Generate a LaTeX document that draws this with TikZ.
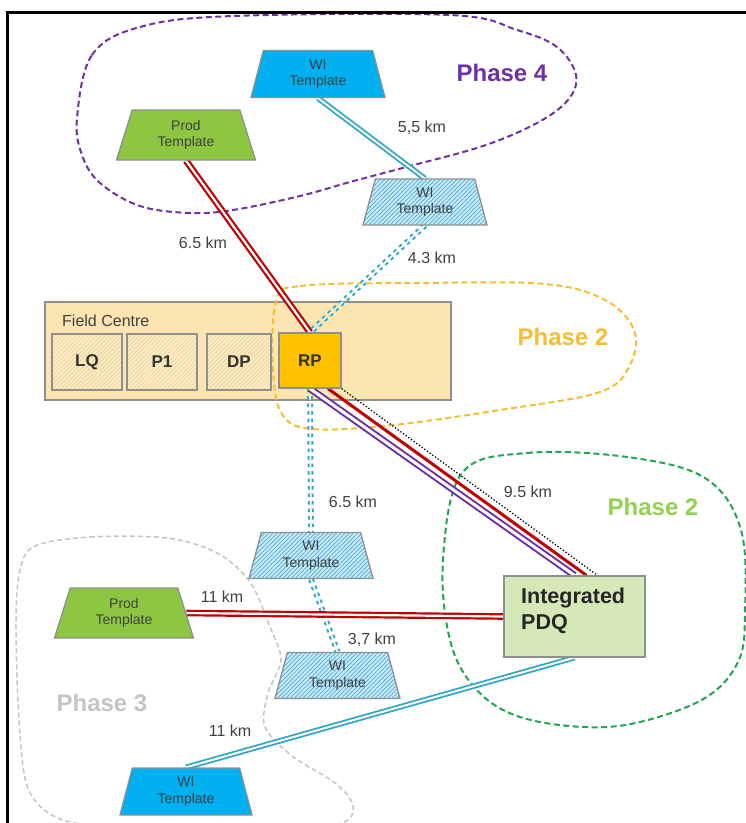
\documentclass[tikz,border=0pt]{standalone}
\usepackage{fontspec}
\setmainfont{Liberation Sans}
\usetikzlibrary{shapes.geometric,patterns.meta,calc}

\definecolor{txtgray}{HTML}{404040}
\definecolor{edgegray}{HTML}{8F8F8F}
\definecolor{wiblue}{HTML}{00B0F0}
\definecolor{wilight}{HTML}{CBE9F7}
\definecolor{wihatch}{HTML}{45ACD8}
\definecolor{prodgreen}{HTML}{8DC640}
\definecolor{pdqgreen}{HTML}{D4E9B7}
\definecolor{fcfill}{HTML}{FDE5B2}
\definecolor{unitfill}{HTML}{FCEBC4}
\definecolor{unithatch}{HTML}{E6CF94}
\definecolor{rporange}{HTML}{FFC000}
\definecolor{linkcyan}{HTML}{31A6C4}
\definecolor{linkred}{HTML}{C00000}
\definecolor{linkpurple}{HTML}{7030A0}
\definecolor{zonepurple}{HTML}{7030A0}
\definecolor{zonegold}{HTML}{F5BE32}
\definecolor{zonegreen}{HTML}{22A553}
\definecolor{labelgreen}{HTML}{92D050}
\definecolor{zonegray}{HTML}{C4C4C4}

\pgfdeclarelayer{backdrop}
\pgfdeclarelayer{zones}
\pgfdeclarelayer{links}
\pgfsetlayers{backdrop,zones,links,main}

\tikzset{
  tmpl/.style={trapezium, trapezium stretches body, draw=edgegray, line width=1.3pt,
    inner sep=0pt, align=center, text=txtgray,
    font=\fontsize{14}{16.5}\selectfont},
  wisolid/.style={tmpl, fill=wiblue, trapezium angle=67, minimum height=47},
  wihatched/.style={tmpl, trapezium angle=67, minimum height=46,
    preaction={fill=wilight},
    pattern={Lines[angle=45,distance=3pt,line width=0.7pt]}, pattern color=wihatch},
  prodtmpl/.style={tmpl, fill=prodgreen, trapezium angle=62, minimum height=50},
  unitbox/.style={draw=edgegray, line width=1.3pt, minimum height=56, inner sep=0pt,
    font=\fontsize{17}{17}\selectfont\bfseries, text=black!80,
    preaction={fill=unitfill},
    pattern={Lines[angle=45,distance=3pt,line width=0.6pt]}, pattern color=unithatch},
  km/.style={font=\fontsize{16}{16}\selectfont, text=txtgray, inner sep=0pt},
  phaselbl/.style={font=\fontsize{24}{24}\selectfont\bfseries, inner sep=0pt},
  zone/.style={dash pattern=on 6pt off 3.5pt, line width=2pt},
  pipered/.style={draw=linkred, line width=2.2pt, double=white, double distance=2.2pt},
  pipecyan/.style={draw=linkcyan, line width=1.8pt, double=white, double distance=2pt},
  pipecyandot/.style={draw=linkcyan, line width=2pt, double=white, double distance=1.8pt,
    dash pattern=on 3.5pt off 4pt},
  pipepurple/.style={draw=linkpurple, line width=2pt, double=white, double distance=3pt},
}

\begin{document}
\begin{tikzpicture}[x=1pt,y=-1pt]
\useasboundingbox (0,0) rectangle (746,823);

% outer frame (top and left edges)
\draw[line width=2.2pt] (7.5,840) -- (7.5,12.5) -- (760,12.5);

% field centre block
\begin{pgfonlayer}{backdrop}
  \node[draw=edgegray, line width=1.3pt, fill=fcfill, minimum width=406, minimum height=98,
        inner sep=0pt] (fc) at (248,351) {};
\end{pgfonlayer}
\node[anchor=west, inner sep=0pt, font=\fontsize{16}{16}\selectfont, text=txtgray]
  (fclabel) at (62,321) {Field Centre};

\node[unitbox, minimum width=70] (lq) at (87,362) {LQ};
\node[unitbox, minimum width=70] (p1) at (162,362) {P1};
\node[unitbox, minimum width=64] (dp) at (239,362) {DP};
\node[draw=edgegray, line width=1.3pt, fill=rporange, minimum width=62, minimum height=55,
      inner sep=0pt, font=\fontsize{17}{17}\selectfont\bfseries, text=black!80]
  (rp) at (310,360.5) {RP};

% templates
\node[wisolid, minimum width=134] (wi4) at (318,74) {WI\\Template};
\node[prodtmpl, minimum width=139] (prod4) at (186,135) {Prod\\Template};
\node[wihatched, minimum width=124] (wi4h) at (425,202) {WI\\Template};
\node[wihatched, minimum width=124] (wi3m) at (311,555.5) {WI\\Template};
\node[prodtmpl, minimum width=139] (prod3) at (124,613) {Prod\\Template};
\node[wihatched, minimum width=125] (wi3h) at (337.5,675.5) {WI\\Template};
\node[wisolid, minimum width=132] (wi3) at (186,791.5) {WI\\Template};

% integrated PDQ
\node[draw=edgegray, line width=1.3pt, fill=pdqgreen, minimum width=141, minimum height=81,
      inner sep=0pt] (pdq) at (574.5,616.5) {};
\node[anchor=north west, align=left, inner sep=0pt,
      font=\fontsize{21.5}{26}\selectfont\bfseries, text=black!85]
  (pdqlabel) at (521,588) {Integrated\\PDQ};

% phase zones
\begin{pgfonlayer}{zones}
  \draw[zone, draw=zonepurple] plot[smooth cycle, tension=0.6] coordinates {
    (77,118) (92,55) (140,27) (233,16) (450,15) (517,30) (557,47) (576,75) (568,100)
    (537,123) (483,146) (410,166) (350,182) (300,196) (233,210) (190,213)
    (140,206) (100,183) (82,155)};
  \draw[zone, draw=zonegold] plot[smooth cycle, tension=0.6] coordinates {
    (276,302) (300,286) (420,283) (545,284) (605,300) (634,330) (630,365)
    (600,392) (500,410) (393,425) (312,429) (282,414) (273,370)};
  \draw[zone, draw=zonegreen] plot[smooth cycle, tension=0.6] coordinates {
    (462,473) (527,453) (627,457) (705,478) (741,530) (745,615) (738,662)
    (705,698) (640,722) (583,727) (517,716) (475,688) (450,640) (443,560)};
  \draw[zone, draw=zonegray, line width=1.5pt, dash pattern=on 5pt off 3pt]
    plot[smooth cycle, tension=0.55] coordinates {
    (35,546) (90,537) (167,538) (217,553) (250,582) (270,627) (281,660) (268,693)
    (265,727) (292,756) (335,783) (353,806) (338,824) (250,830) (120,828)
    (58,818) (28,788) (19,720) (16,620) (20,570)};
\end{pgfonlayer}

\node[phaselbl, text=zonepurple] (ph4) at (502,73) {Phase 4};
\node[phaselbl, text=zonegold] (ph2a) at (563,337) {Phase 2};
\node[phaselbl, text=labelgreen] (ph2b) at (653,507) {Phase 2};
\node[phaselbl, text=zonegray] (ph3) at (102,703) {Phase 3};

% pipelines
\begin{pgfonlayer}{links}
  \draw[pipecyan] (wi4.south) -- (wi4h.north);
  \draw[pipered] (prod4.south) -- (rp.north);
  \draw[pipecyandot] (wi4h.south) -- (rp.north);
  \draw[pipecyandot] (rp.south) -- (wi3m.north);
  \draw[pipecyandot] (wi3m.south) -- (wi3h.north);
  \draw[pipepurple] (rp.south) -- (pdq.north);
  \draw[draw=linkred, line width=3pt] ($(rp.south)+(18,0)$) -- ($(pdq.north)+(12,0)$);
  \draw[black, line width=1.3pt, dash pattern=on 1.3pt off 2pt]
    (rp.south east) -- ($(pdq.north)+(23,0)$);
  \draw[pipered] (prod3.east) -- (pdq.west);
  \draw[pipecyan] (pdq.south) -- (wi3.north);
\end{pgfonlayer}

% distances
\node[km] (d55) at (422,128) {5,5 km};
\node[km] (d65a) at (203,243) {6.5 km};
\node[km] (d43) at (432,258) {4.3 km};
\node[km] (d65b) at (353,502) {6.5 km};
\node[km] (d95) at (528,492) {9.5 km};
\node[km] (d37) at (372,640) {3,7 km};
\node[km] (d11a) at (222,597) {11 km};
\node[km] (d11b) at (230,731) {11 km};
\end{tikzpicture}
\end{document}
